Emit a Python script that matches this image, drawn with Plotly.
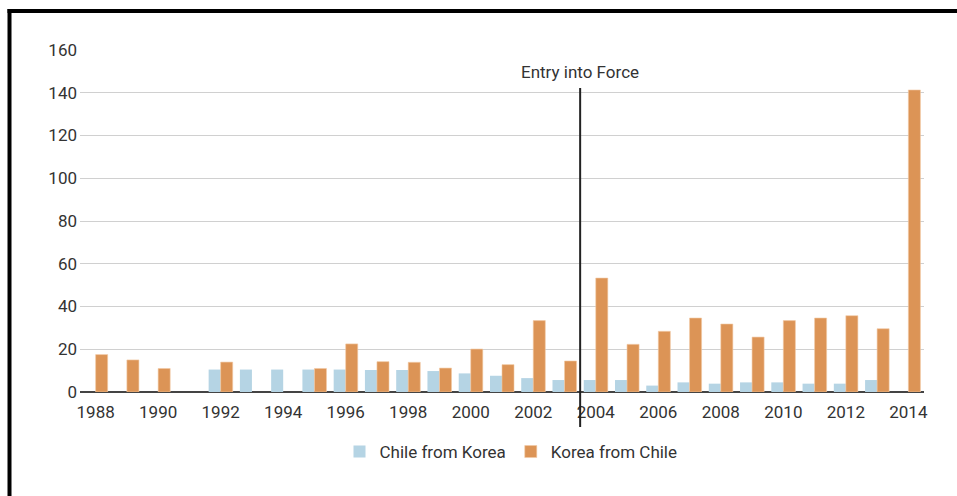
import plotly.graph_objects as go

years = list(range(1988, 2015))
chile_from_korea = [None, None, None, None, 10.5, 10.5, 10.5, 10.5, 10.5, 10.3, 10.3, 9.8, 8.7, 7.6, 6.5, 5.6,
                    5.6, 5.6, 3.0, 4.5, 3.9, 4.5, 4.5, 3.9, 3.9, 5.6, None]
korea_from_chile = [17.5, 15.0, 11.0, None, 14.0, None, None, 11.0, 22.5, 14.2, 13.9, 11.2, 20.1, 12.8, 33.4, 14.5,
                    53.3, 22.3, 28.4, 34.6, 31.8, 25.7, 33.4, 34.6, 35.7, 29.6, 141.3]
tick_years = list(range(1988, 2015, 2))
y_ticks = list(range(0, 161, 20))
series_names = ["Chile from Korea", "Korea from Chile"]
entry_year = 2003.5
entry_label = "Entry into Force"

BLUE = "#b5d4e4"
ORANGE = "#dc9456"
TXT = "#333333"
FONT = "Roboto"
FS = 17

W, H = 957, 496
L, R, T, B = 80, 33, 50, 104
pw, ph = W - L - R, H - T - B

def px(xpix):
    return (xpix - L) / pw

def py(ypix):
    return (H - B - ypix) / ph

fig = go.Figure()
fig.add_trace(go.Bar(x=years, y=chile_from_korea, name=series_names[0], marker=dict(color=BLUE, line=dict(width=0))))
fig.add_trace(go.Bar(x=years, y=korea_from_chile, name=series_names[1],
                     marker=dict(color=ORANGE, line=dict(width=0.6, color="#f2c9a4"))))

fig.update_layout(
    width=W, height=H, autosize=False,
    margin=dict(l=L, r=R, t=T, b=B, pad=0),
    paper_bgcolor="white", plot_bgcolor="white",
    barmode="group", bargap=0.23, bargroupgap=0,
    font=dict(family=FONT, size=FS, color=TXT),
    showlegend=True,
    legend=dict(orientation="h", x=px(511), xanchor="center", y=py(452), yanchor="middle",
                font=dict(family=FONT, size=FS, color=TXT), itemclick=False, traceorder="normal"),
    xaxis=dict(range=[1987.5, 2014.5], tickmode="array", tickvals=tick_years,
               ticktext=[str(y) for y in tick_years], showgrid=False, zeroline=False,
               ticks="outside", ticklen=5, tickcolor="rgba(0,0,0,0)", showline=False,
               tickfont=dict(family=FONT, size=FS, color=TXT)),
    yaxis=dict(range=[0, 160], tickmode="array", tickvals=y_ticks, showgrid=True,
               gridcolor="#d0d0d0", gridwidth=1, zeroline=True, zerolinecolor="#444444",
               zerolinewidth=2, ticks="", showline=False, ticklabelstandoff=2,
               tickfont=dict(family=FONT, size=FS, color=TXT)),
)

shapes = [
    dict(type="rect", xref="paper", yref="paper", x0=px(940), x1=px(957), y0=py(85), y1=py(14),
         fillcolor="white", line=dict(width=0), layer="above"),
    dict(type="line", xref="x", yref="paper", x0=entry_year, x1=entry_year,
         y0=py(427), y1=py(88), line=dict(color="#222222", width=2), layer="above"),
    dict(type="line", xref="paper", yref="paper", x0=px(7.5), x1=px(957), y0=py(11), y1=py(11),
         line=dict(color="black", width=4)),
    dict(type="line", xref="paper", yref="paper", x0=px(9.5), x1=px(9.5), y0=py(9), y1=py(496),
         line=dict(color="black", width=4)),
]
fig.update_layout(shapes=shapes)
fig.add_annotation(x=entry_year, xref="x", y=py(72), yref="paper", text=entry_label, showarrow=False,
                   xanchor="center", yanchor="middle", font=dict(family=FONT, size=FS, color=TXT))

fig.write_html("out.html", config={"displayModeBar": False, "staticPlot": True},
               post_script=("document.body.style.margin='0';document.body.style.overflow='hidden';"
                            "document.documentElement.style.overflow='hidden';"))
